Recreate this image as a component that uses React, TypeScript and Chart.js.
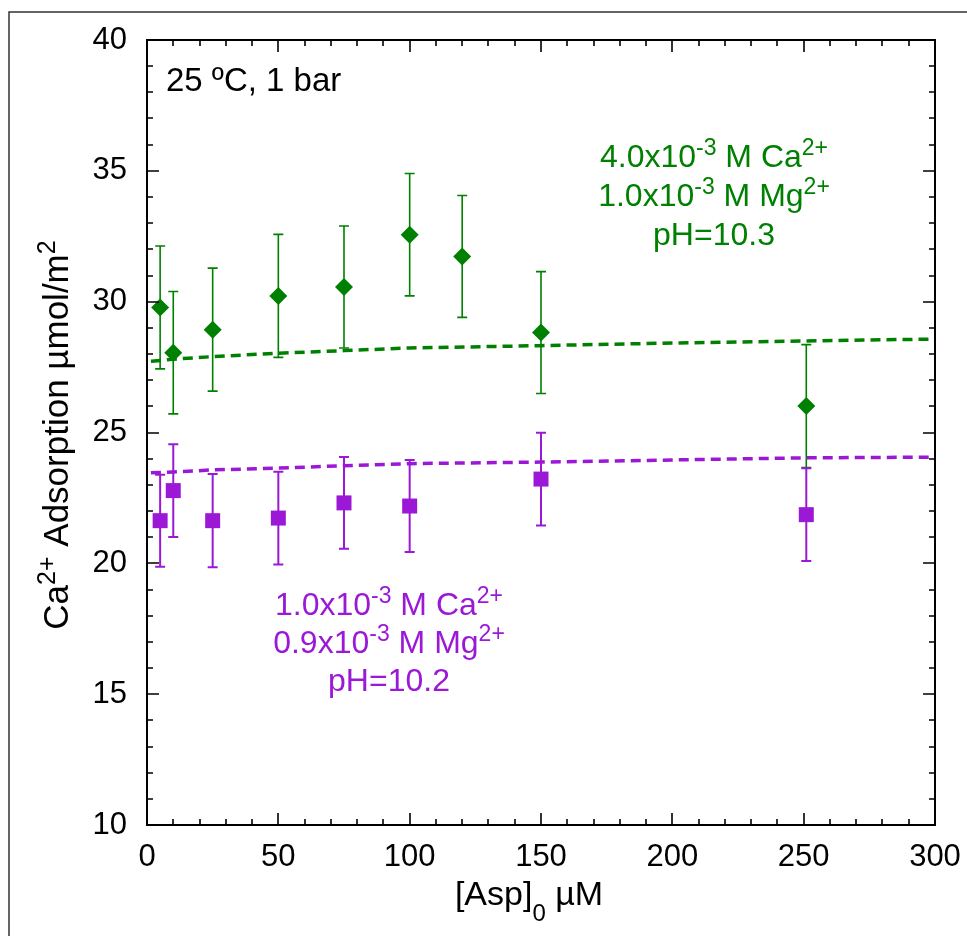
import { useEffect, useRef } from 'react';
import { Chart, registerables } from 'chart.js';

Chart.register(...registerables);

const FONT = '"Liberation Sans", Arial, Helvetica, sans-serif';
const GREEN = '#008000';
const PURPLE = '#9B19D6';

// Data
const xGreen = [5, 10, 25, 50, 75, 100, 120, 150, 251];
const yGreen = [29.78, 28.05, 28.93, 30.22, 30.56, 32.56, 31.73, 28.82, 26.01];
const errGreen = [2.35, 2.34, 2.35, 2.35, 2.33, 2.34, 2.33, 2.33, 2.35];

const xPurple = [5, 10, 25, 50, 75, 100, 150, 251];
const yPurple = [21.63, 22.78, 21.63, 21.73, 22.31, 22.19, 23.22, 21.86];
const errPurple = [1.76, 1.77, 1.78, 1.77, 1.75, 1.76, 1.77, 1.77];

const fitX = [1.5, 10, 25, 50, 75, 100, 150, 200, 250, 300];
const greenFit = [27.72, 27.8, 27.9, 28.03, 28.13, 28.23, 28.32, 28.42, 28.5, 28.57];
const purpleFit = [23.46, 23.49, 23.57, 23.64, 23.73, 23.81, 23.87, 23.95, 24.03, 24.06];

const X_MIN = 0, X_MAX = 300, X_STEP = 50, X_MINOR = 10;
const Y_MIN = 10, Y_MAX = 40, Y_STEP = 5, Y_MINOR = 1;

type Part = { t: string; s?: 'sup' | 'sub' };

const greenNote: Part[][] = [
  [{ t: '4.0x10' }, { t: '-3', s: 'sup' }, { t: ' M Ca' }, { t: '2+', s: 'sup' }],
  [{ t: '1.0x10' }, { t: '-3', s: 'sup' }, { t: ' M Mg' }, { t: '2+', s: 'sup' }],
  [{ t: 'pH=10.3' }],
];
const purpleNote: Part[][] = [
  [{ t: '1.0x10' }, { t: '-3', s: 'sup' }, { t: ' M Ca' }, { t: '2+', s: 'sup' }],
  [{ t: '0.9x10' }, { t: '-3', s: 'sup' }, { t: ' M Mg' }, { t: '2+', s: 'sup' }],
  [{ t: 'pH=10.2' }],
];
const conditionNote: Part[] = [{ t: '25 ºC, 1 bar' }];
const yTitle: Part[] = [
  { t: 'Ca' }, { t: '2+', s: 'sup' }, { t: ' Adsorption µmol/m' }, { t: '2', s: 'sup' },
];
const xTitle: Part[] = [{ t: '[Asp]' }, { t: '0', s: 'sub' }, { t: ' µM' }];

function partFont(size: number, p: Part) {
  const s = p.s ? Math.round(size * 0.72) : size;
  return `${s}px ${FONT}`;
}

function measure(ctx: CanvasRenderingContext2D, parts: Part[], size: number) {
  let w = 0;
  for (const p of parts) {
    ctx.font = partFont(size, p);
    w += ctx.measureText(p.t).width;
  }
  return w;
}

function drawParts(
  ctx: CanvasRenderingContext2D,
  parts: Part[],
  x: number,
  y: number,
  size: number,
  color: string,
  align: 'left' | 'center'
) {
  const w = measure(ctx, parts, size);
  let cx = align === 'center' ? x - w / 2 : x;
  ctx.fillStyle = color;
  ctx.textAlign = 'left';
  ctx.textBaseline = 'alphabetic';
  for (const p of parts) {
    ctx.font = partFont(size, p);
    let dy = 0;
    if (p.s === 'sup') dy = -size * 0.37;
    if (p.s === 'sub') dy = size * 0.48;
    ctx.fillText(p.t, cx, y + dy);
    cx += ctx.measureText(p.t).width;
  }
}

const errorBars = {
  id: 'errorBars',
  beforeDatasetsDraw(chart: any) {
    const ctx = chart.ctx as CanvasRenderingContext2D;
    const xs = chart.scales.x;
    const ys = chart.scales.y;
    const sets = [
      { x: xGreen, y: yGreen, e: errGreen, c: GREEN, w: 1.6 },
      { x: xPurple, y: yPurple, e: errPurple, c: PURPLE, w: 2 },
    ];
    ctx.save();
    for (const s of sets) {
      ctx.strokeStyle = s.c;
      ctx.lineWidth = s.w;
      for (let i = 0; i < s.x.length; i++) {
        const px = xs.getPixelForValue(s.x[i]);
        const pt = ys.getPixelForValue(s.y[i] + s.e[i]);
        const pb = ys.getPixelForValue(s.y[i] - s.e[i]);
        ctx.beginPath();
        ctx.moveTo(px, pt);
        ctx.lineTo(px, pb);
        ctx.moveTo(px - 5, pt);
        ctx.lineTo(px + 5, pt);
        ctx.moveTo(px - 5, pb);
        ctx.lineTo(px + 5, pb);
        ctx.stroke();
      }
    }
    ctx.restore();
  },
};

const decor = {
  id: 'decor',
  afterDraw(chart: any) {
    const ctx = chart.ctx as CanvasRenderingContext2D;
    const xs = chart.scales.x;
    const ys = chart.scales.y;
    const { left, right, top, bottom } = chart.chartArea;
    ctx.save();
    // outer frame
    ctx.strokeStyle = '#333';
    ctx.lineWidth = 1.5;
    ctx.beginPath();
    ctx.moveTo(9, 936);
    ctx.lineTo(9, 12);
    ctx.lineTo(967, 12);
    ctx.stroke();

    // plot border
    ctx.strokeStyle = '#000';
    ctx.lineWidth = 2;
    ctx.strokeRect(left, top, right - left, bottom - top);

    // inward ticks on all sides
    ctx.lineWidth = 1.6;
    ctx.beginPath();
    for (let v = X_MIN; v <= X_MAX; v += X_MINOR) {
      const px = Math.round(xs.getPixelForValue(v));
      const len = v % X_STEP === 0 ? 12 : 6;
      ctx.moveTo(px, bottom);
      ctx.lineTo(px, bottom - len);
      ctx.moveTo(px, top);
      ctx.lineTo(px, top + len);
    }
    for (let v = Y_MIN; v <= Y_MAX; v += Y_MINOR) {
      const py = Math.round(ys.getPixelForValue(v));
      const len = v % Y_STEP === 0 ? 12 : 6;
      ctx.moveTo(left, py);
      ctx.lineTo(left + len, py);
      ctx.moveTo(right, py);
      ctx.lineTo(right - len, py);
    }
    ctx.stroke();

    // annotations
    drawParts(ctx, conditionNote, 166, 91, 33, '#000', 'left');
    const gy = [167, 206, 245];
    greenNote.forEach((l, i) => drawParts(ctx, l, 714, gy[i], 32, GREEN, 'center'));
    const py = [615, 653, 691];
    purpleNote.forEach((l, i) => drawParts(ctx, l, 389, py[i], 32, PURPLE, 'center'));

    // axis titles
    drawParts(ctx, xTitle, 529, 905, 34, '#000', 'center');
    ctx.translate(68, 435);
    ctx.rotate(-Math.PI / 2);
    drawParts(ctx, yTitle, 0, 0, 35, '#000', 'center');
    ctx.restore();
  },
};

export default function App() {
  const ref = useRef<HTMLCanvasElement>(null);
  useEffect(() => {
    document.body.style.margin = '0';
    const canvas = ref.current!;
    const chart = new Chart(canvas, {
      type: 'scatter',
      data: {
        datasets: [
          {
            type: 'scatter',
            data: xGreen.map((x, i) => ({ x, y: yGreen[i] })),
            pointStyle: 'rectRot',
            pointRadius: 9,
            backgroundColor: GREEN,
            borderColor: GREEN,
            borderWidth: 0,
          },
          {
            type: 'scatter',
            data: xPurple.map((x, i) => ({ x, y: yPurple[i] })),
            pointStyle: 'rect',
            pointRadius: 10.6,
            backgroundColor: PURPLE,
            borderColor: PURPLE,
            borderWidth: 0,
          },
          {
            type: 'line',
            data: fitX.map((x, i) => ({ x, y: greenFit[i] })),
            borderColor: GREEN,
            borderWidth: 3.5,
            borderDash: [10, 6],
            pointRadius: 0,
            fill: false,
            tension: 0,
          },
          {
            type: 'line',
            data: fitX.map((x, i) => ({ x, y: purpleFit[i] })),
            borderColor: PURPLE,
            borderWidth: 3.5,
            borderDash: [10, 6],
            pointRadius: 0,
            fill: false,
            tension: 0,
          },
        ] as any,
      },
      options: {
        animation: false,
        responsive: false,
        devicePixelRatio: 1,
        layout: { padding: { left: 0, top: 40, right: 32, bottom: 0 } },
        plugins: {
          legend: { display: false },
          tooltip: { enabled: false },
        },
        scales: {
          x: {
            type: 'linear',
            min: X_MIN,
            max: X_MAX,
            grid: { display: false, drawTicks: false },
            border: { display: false },
            ticks: {
              stepSize: X_STEP,
              padding: 14,
              color: '#000',
              font: { family: FONT, size: 31 },
              maxRotation: 0,
            },
            afterFit: (s: any) => {
              s.height = 111;
              s.paddingLeft = 0;
              s.paddingRight = 0;
            },
          },
          y: {
            type: 'linear',
            min: Y_MIN,
            max: Y_MAX,
            grid: { display: false, drawTicks: false },
            border: { display: false },
            ticks: {
              stepSize: Y_STEP,
              padding: 20,
              color: '#000',
              font: { family: FONT, size: 31 },
            },
            afterFit: (s: any) => {
              s.width = 147;
              s.paddingTop = 0;
              s.paddingBottom = 0;
            },
          },
        },
      },
      plugins: [errorBars, decor],
    });
    return () => chart.destroy();
  }, []);
  return <canvas ref={ref} width={967} height={936} style={{ display: 'block' }} />;
}
